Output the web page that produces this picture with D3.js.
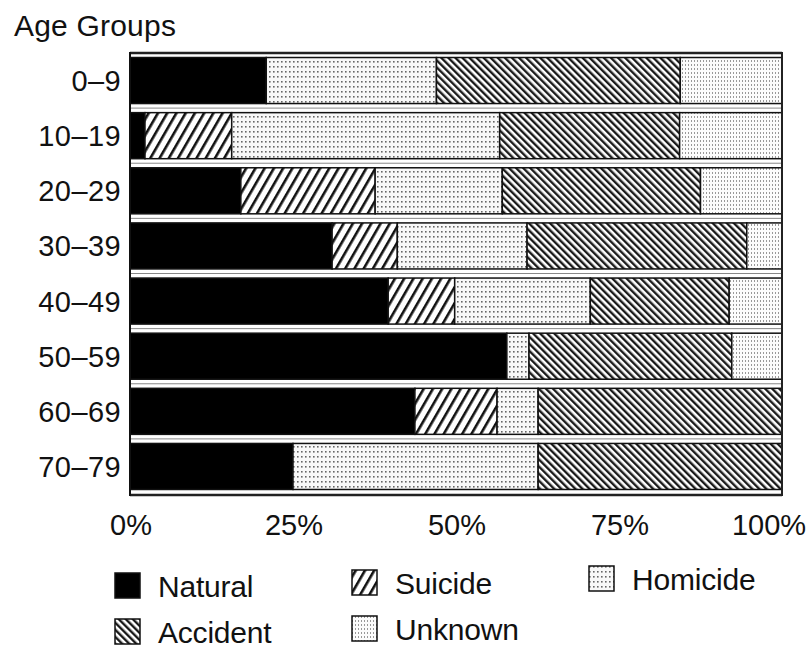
<!DOCTYPE html>
<html><head><meta charset="utf-8">
<script src="https://cdn.jsdelivr.net/npm/d3@7"></script>
<style>body{margin:0;background:#fff;} svg{display:block;} text{font-family:"Liberation Sans",Arial,sans-serif;fill:#111;}</style>
</head><body>
<svg id="c" width="808" height="649"></svg>
<script>
const groups = ["0–9","10–19","20–29","30–39","40–49","50–59","60–69","70–79"];
const causes = ["Natural","Suicide","Homicide","Accident","Unknown"];
const natural  = [20.9, 2.3, 17.0, 31.0, 39.6, 57.8, 43.7, 25.0];
const suicide  = [0, 13.3, 20.6, 10.0, 10.2, 0, 12.6, 0];
const homicide = [26.1, 41.1, 19.5, 19.9, 20.8, 3.4, 6.3, 37.6];
const accident = [37.4, 27.6, 30.4, 33.7, 21.3, 31.1, 37.4, 37.4];
const unknown  = [15.6, 15.7, 12.5, 5.4, 8.1, 7.7, 0, 0];
const tickValues = [0, 25, 50, 75, 100];
const tickLabels = ["0%","25%","50%","75%","100%"];

const table = groups.map((g,i)=>({group:g, Natural:natural[i], Suicide:suicide[i], Homicide:homicide[i], Accident:accident[i], Unknown:unknown[i]}));

const svg = d3.select("#c");
const defs = svg.append("defs");

// patterns
const pS = defs.append("pattern").attr("id","p-Suicide").attr("patternUnits","userSpaceOnUse")
  .attr("width",8).attr("height",8).attr("patternTransform","rotate(30)");
pS.append("rect").attr("width",8).attr("height",8).attr("fill","#fff");
pS.append("rect").attr("x",0).attr("width",2.6).attr("height",8).attr("fill","#111");

const pA = defs.append("pattern").attr("id","p-Accident").attr("patternUnits","userSpaceOnUse")
  .attr("width",5).attr("height",5).attr("patternTransform","rotate(-45)");
pA.append("rect").attr("width",5).attr("height",5).attr("fill","#fff");
pA.append("rect").attr("x",0).attr("width",2.4).attr("height",5).attr("fill","#1a1a1a");

const pH = defs.append("pattern").attr("id","p-Homicide").attr("patternUnits","userSpaceOnUse")
  .attr("width",4).attr("height",5);
pH.append("rect").attr("width",4).attr("height",5).attr("fill","#f8f8f8");
pH.append("rect").attr("x",1).attr("y",1).attr("width",1.6).attr("height",1.6).attr("fill","#666");

const pU = defs.append("pattern").attr("id","p-Unknown").attr("patternUnits","userSpaceOnUse")
  .attr("width",3).attr("height",4);
pU.append("rect").attr("width",3).attr("height",4).attr("fill","#fcfcfc");
pU.append("rect").attr("x",1).attr("y",0).attr("width",1).attr("height",2).attr("fill","#999");

const fillOf = k => k==="Natural" ? "#000" : `url(#p-${k})`;

const x = d3.scaleLinear().domain([0,100]).range([130,782]);
const y = d3.scaleBand().domain(groups).range([52,495]).paddingInner(0.165).paddingOuter(0.10);

// separators between bars
const step = y.step(), bw = y.bandwidth();
svg.append("g").selectAll("line").data(groups.slice(0,-1)).join("line")
  .attr("x1",x(0)).attr("x2",x(100))
  .attr("y1",d=>y(d)+bw+(step-bw)/2).attr("y2",d=>y(d)+bw+(step-bw)/2)
  .attr("stroke","#888").attr("stroke-width",1);

// bars
const stacked = d3.stack().keys(causes)(table);
svg.append("g").selectAll("g").data(stacked).join("g")
  .attr("fill",d=>fillOf(d.key))
  .selectAll("rect").data(d=>d.filter(s=>s[1]-s[0]>0)).join("rect")
  .attr("x",d=>x(d[0])).attr("width",d=>x(d[1])-x(d[0]))
  .attr("y",d=>y(d.data.group)).attr("height",bw)
  .attr("stroke","#111").attr("stroke-width",1.5);

// frame
svg.append("line").attr("x1",x(0)).attr("x2",x(100)).attr("y1",53).attr("y2",53).attr("stroke","#222").attr("stroke-width",2.5);
svg.append("line").attr("x1",x(0)).attr("x2",x(100)).attr("y1",495).attr("y2",495).attr("stroke","#222").attr("stroke-width",2.5);
svg.append("line").attr("x1",x(0)).attr("x2",x(0)).attr("y1",52).attr("y2",496).attr("stroke","#111").attr("stroke-width",2);
svg.append("line").attr("x1",x(100)).attr("x2",x(100)).attr("y1",52).attr("y2",496).attr("stroke","#222").attr("stroke-width",2);

// y labels
svg.append("g").selectAll("text").data(groups).join("text")
  .attr("x",121).attr("y",d=>y(d)+bw/2).attr("dy","0.36em")
  .attr("text-anchor","end").attr("font-size",29).attr("letter-spacing",0.4).text(d=>d);

// x tick labels
svg.append("g").selectAll("text").data(tickValues).join("text")
  .attr("x",(d,i)=> i===tickValues.length-1 ? x(d)-13 : x(d)+1)
  .attr("y",535).attr("text-anchor","middle").attr("font-size",29)
  .text((d,i)=>tickLabels[i]);

// title
svg.append("text").attr("x",14).attr("y",36).attr("font-size",30).attr("letter-spacing",0.2).text("Age Groups");

// legend
const legendPos = [
  {k:"Natural", cx:115, by:597},
  {k:"Suicide", cx:352, by:594},
  {k:"Homicide", cx:589, by:590},
  {k:"Accident", cx:115, by:643},
  {k:"Unknown", cx:352, by:640}
];
const lg = svg.append("g").selectAll("g").data(legendPos).join("g");
lg.append("rect").attr("x",d=>d.cx).attr("y",d=>d.by-24).attr("width",25).attr("height",25)
  .attr("fill",d=>fillOf(d.k)).attr("stroke","#111").attr("stroke-width",1.5);
lg.append("text").attr("x",d=>d.cx+43).attr("y",d=>d.by).attr("font-size",30).attr("letter-spacing",-0.2).text(d=>d.k);
</script>
</body></html>
